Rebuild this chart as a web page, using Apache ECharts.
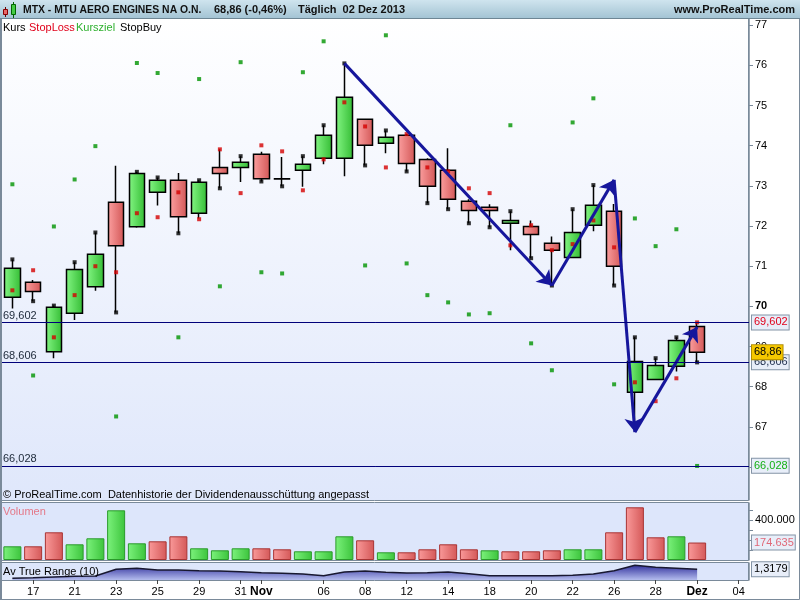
<!DOCTYPE html>
<html><head><meta charset="utf-8">
<script src="https://cdn.jsdelivr.net/npm/echarts@6/dist/echarts.min.js"></script>
<style>html,body{margin:0;padding:0;background:#fff}#c{width:800px;height:600px}</style>
</head><body><div id="c"></div>
<script>
// ---------- data ----------
const dates = ['2013-10-16','2013-10-17','2013-10-18','2013-10-21','2013-10-22','2013-10-23','2013-10-24','2013-10-25',
  '2013-10-28','2013-10-29','2013-10-30','2013-10-31','2013-11-01','2013-11-04','2013-11-05','2013-11-06','2013-11-07',
  '2013-11-08','2013-11-11','2013-11-12','2013-11-13','2013-11-14','2013-11-15','2013-11-18','2013-11-19','2013-11-20',
  '2013-11-21','2013-11-22','2013-11-25','2013-11-26','2013-11-27','2013-11-28','2013-11-29','2013-12-02','2013-12-03','2013-12-04'];
const tickLabels = ['','17','','21','','23','','25','','29','','31','Nov','','','06','','08','','12','','14','','18','','20','','22','','26','','28','','Dez','','04'];
const opens  = [70.23,70.60,68.87,69.83,70.49,72.59,71.98,72.84,73.14,72.32,73.46,73.46,73.79,73.18,73.39,73.69,73.69,74.66,74.06,74.26,73.66,73.39,72.62,72.47,72.07,71.99,71.57,71.22,72.02,72.37,67.86,68.18,68.51,69.50];
const closes = [70.95,70.37,69.98,70.92,71.30,71.51,73.31,73.14,72.23,73.09,73.31,73.59,73.18,73.17,73.54,74.26,75.21,74.01,74.21,73.56,72.99,72.67,72.39,72.39,72.14,71.79,71.40,71.84,72.52,71.00,68.63,68.53,69.15,68.86];
const lows   = [69.95,70.13,68.71,69.66,70.39,69.85,71.96,72.51,71.82,72.19,72.94,73.10,73.11,72.99,72.98,73.54,73.24,73.51,73.81,73.36,72.57,72.42,72.07,71.97,71.40,71.20,70.52,71.22,71.87,70.52,66.95,68.16,68.38,68.606];
const highs  = [71.17,70.66,70.02,71.10,71.84,73.50,73.35,73.21,73.32,73.14,73.91,73.74,73.85,73.72,73.74,74.51,76.05,74.68,74.38,74.29,73.69,73.94,72.67,72.54,72.37,72.14,71.74,72.42,73.02,72.55,69.23,68.71,69.23,69.602];
const stopLoss = [70.40,70.90,69.23,70.28,71.00,70.85,72.32,72.22,72.84,72.17,73.91,72.82,74.01,73.86,72.89,73.66,75.08,74.48,73.46,74.29,73.46,73.36,72.94,72.82,71.52,72.02,71.40,71.55,72.14,71.47,68.11,67.64,68.21,69.602];
const kursziel = [73.04,68.28,71.99,73.16,73.99,67.26,76.06,75.81,69.23,75.66,70.50,76.08,70.85,70.82,75.83,76.60,null,71.02,76.75,71.07,70.28,70.10,69.80,69.83,74.51,69.08,68.41,74.58,75.18,68.06,72.19,71.50,71.92,66.028];
const stopBuy  = [71.17,70.13,70.02,71.10,71.84,69.85,73.35,73.21,71.82,73.14,72.94,73.74,73.11,72.99,73.74,74.51,76.05,73.51,74.38,73.36,72.57,72.42,72.07,71.97,72.37,71.20,70.52,72.42,73.02,70.52,69.23,68.71,69.23,68.606];
const volumes = [137000,137000,277000,157000,217000,497000,167000,187000,237000,117000,97000,117000,117000,107000,87000,87000,237000,197000,77000,77000,107000,157000,107000,97000,87000,87000,97000,107000,107000,277000,527000,227000,237000,174635];
const volDir  = [1,-1,-1,1,1,1,1,-1,-1,1,1,1,-1,-1,1,1,1,-1,1,-1,-1,-1,-1,1,-1,-1,-1,1,1,-1,-1,-1,1,-1];
const atr = [0.850,0.881,0.918,0.954,0.970,1.318,1.370,1.282,1.282,1.245,1.230,1.193,1.141,1.110,1.074,0.985,1.178,1.230,1.162,1.126,1.141,1.178,1.089,0.985,0.985,0.985,0.985,1.006,1.074,1.245,1.526,1.422,1.370,1.3179];
const trendPoints = [[16,76.05],[26,70.52],[29,73.15],[30,66.87],[33,69.49]];
const priceTicks = [66,67,68,69,70,71,72,73,74,75,76,77];
const volTicks = [100000,200000,300000,400000,500000];
const volLabelTicks = [400000];

// ---------- helpers ----------
const FONT = 'Liberation Sans, Arial, sans-serif';
const de = (v, d) => v.toFixed(d).replace('.', ',');
const deVol = v => String(Math.round(v)).replace(/\B(?=(\d{3})+(?!\d))/g, '.');
const gH = (a, b) => new echarts.graphic.LinearGradient(0, 0, 1, 0, [{offset: 0, color: a}, {offset: 1, color: b}]);
const gV = (a, b) => new echarts.graphic.LinearGradient(0, 0, 0, 1, [{offset: 0, color: a}, {offset: 1, color: b}]);
const last = a => a[a.length - 1];
const NOLINE = {color: 'rgba(0,0,0,0)', width: 0};
const boxLabel = (text, color, bg, border) => ({
  show: true, position: 'end', distance: 3, formatter: text, color: color, fontSize: 11, fontFamily: FONT,
  backgroundColor: bg || '#e8eef9', borderColor: border || '#8494a6', borderWidth: 1, padding: [2, 1, 1, 2], opacity: 1
});
const hLine = (val, leftText, rightLabel) => ([
  {yAxis: val, label: {show: true, position: 'insideStartTop', distance: [1, 1], formatter: leftText, color: '#1c2838', fontSize: 11, fontFamily: FONT}},
  {yAxis: val, label: rightLabel}
]);

const candleData = opens.map((o, i) => [o, closes[i], lows[i], highs[i]]);
const trendSegs = [];
for (let i = 0; i < trendPoints.length - 1; i++) {
  trendSegs.push([{coord: trendPoints[i]}, {coord: trendPoints[i + 1]}]);
}
const volData = volumes.map((v, i) => ({
  value: v,
  itemStyle: volDir[i] > 0 ? {color: gH('#7cf27c', '#3cc43c'), borderColor: '#2a9a2a'} : {color: gH('#fa9a9a', '#d45858'), borderColor: '#a83434'}
}));

const chart = echarts.init(document.getElementById('c'), null, {renderer: 'canvas', width: 800, height: 600});
const axisGray = '#7a8a9a';
const xBase = (gi) => ({type: 'category', gridIndex: gi, data: dates, boundaryGap: true, show: false});

chart.setOption({
  animation: false,
  backgroundColor: '#ffffff',
  textStyle: {fontFamily: FONT},
  grid: [
    {left: 2, right: 51, top: 18, height: 482, outerBoundsMode: 'none'},
    {left: 2, right: 51, top: 503, height: 57, outerBoundsMode: 'none'},
    {left: 2, right: 51, top: 563, height: 17, outerBoundsMode: 'none'}
  ],
  xAxis: [
    xBase(0), xBase(1),
    {type: 'category', gridIndex: 2, data: dates, boundaryGap: true, position: 'bottom',
      axisLine: {show: false},
      axisTick: {show: true, alignWithLabel: true, length: 4, interval: (i) => tickLabels[i] !== '', lineStyle: {color: '#444'}},
      axisLabel: {interval: (i) => tickLabels[i] !== '', margin: 6, color: '#000', fontSize: 11, fontFamily: FONT,
        formatter: (v, i) => (tickLabels[i] === 'Nov' || tickLabels[i] === 'Dez') ? '{b|' + tickLabels[i] + '}' : tickLabels[i],
        rich: {b: {fontWeight: 'bold', fontSize: 12, fontFamily: FONT, color: '#000'}}},
      splitLine: {show: false}}
  ],
  yAxis: [
    {type: 'value', gridIndex: 0, position: 'right', min: 65.18, max: 77.18, scale: true,
      axisLine: {show: true, lineStyle: {color: axisGray, width: 1.5}},
      axisTick: {show: true, length: 4, customValues: priceTicks, lineStyle: {color: axisGray}},
      axisLabel: {show: true, margin: 6, customValues: priceTicks, color: '#000', fontSize: 11, fontFamily: FONT,
        formatter: v => v === 70 ? '{b|70}' : String(v), rich: {b: {fontWeight: 'bold', fontSize: 11, fontFamily: FONT, color: '#000'}}},
      splitLine: {show: false}},
    {type: 'value', gridIndex: 1, position: 'right', min: 0, max: 570000,
      axisLine: {show: true, lineStyle: {color: axisGray, width: 1.5}},
      axisTick: {show: true, length: 4, customValues: volTicks, lineStyle: {color: axisGray}},
      axisLabel: {show: true, margin: 6, customValues: volLabelTicks, color: '#000', fontSize: 11, fontFamily: FONT, formatter: v => deVol(v)},
      splitLine: {show: false}},
    {type: 'value', gridIndex: 2, position: 'right', min: 0.76, max: 1.646,
      axisLine: {show: true, lineStyle: {color: axisGray, width: 1.5}}, axisTick: {show: false}, axisLabel: {show: false}, splitLine: {show: false}}
  ],
  series: [
    {type: 'candlestick', name: 'Kurs', xAxisIndex: 0, yAxisIndex: 0, data: candleData, barWidth: 16,
      itemStyle: {color: gH('#84f684', '#34bc34'), color0: gH('#fca0a0', '#d25656'), borderColor: '#000', borderColor0: '#000', borderColorDoji: '#000', borderWidth: 1.5},
      markLine: {silent: true, animation: false, symbol: ['none', 'arrow'], symbolSize: 14,
        lineStyle: {color: '#16169c', width: 3, type: 'solid', opacity: 1}, label: {show: false}, data: trendSegs}},
    {type: 'scatter', name: 'StopLoss', xAxisIndex: 0, yAxisIndex: 0, data: stopLoss, symbol: 'rect', symbolSize: 4,
      itemStyle: {color: '#d40000'}, z: 3,
      markLine: {silent: true, animation: false, symbol: ['none', 'none'], lineStyle: {color: '#00007a', width: 1, type: 'solid'},
        data: hLine(last(stopLoss), de(last(stopLoss), 3), boxLabel(de(last(stopLoss), 3), '#e0001a'))}},
    {type: 'scatter', name: 'Kursziel', xAxisIndex: 0, yAxisIndex: 0, data: kursziel, symbol: 'rect', symbolSize: 4,
      itemStyle: {color: '#009400'}, z: 3,
      markLine: {silent: true, animation: false, symbol: ['none', 'none'], lineStyle: {color: '#00007a', width: 1, type: 'solid'},
        data: hLine(last(kursziel), de(last(kursziel), 3), boxLabel(de(last(kursziel), 3), '#16b016'))}},
    {type: 'scatter', name: 'StopBuy', xAxisIndex: 0, yAxisIndex: 0, data: stopBuy, symbol: 'rect', symbolSize: 4,
      itemStyle: {color: '#000'}, z: 3,
      markLine: {silent: true, animation: false, symbol: ['none', 'none'], lineStyle: {color: '#00007a', width: 1, type: 'solid'},
        data: hLine(last(stopBuy), de(last(stopBuy), 3), boxLabel(de(last(stopBuy), 3), '#1c2c4c')).concat([
          {yAxis: last(closes), lineStyle: NOLINE, label: boxLabel(de(last(closes), 2), '#000', '#f6c800', '#b08c00')}
        ])}},
    {type: 'bar', name: 'Volumen', xAxisIndex: 1, yAxisIndex: 1, data: volData, barWidth: 18,
      itemStyle: {borderWidth: 1},
      markLine: {silent: true, animation: false, symbol: ['none', 'none'], lineStyle: NOLINE,
        data: [{yAxis: last(volumes), label: boxLabel(deVol(last(volumes)), '#e06878')}]}},
    {type: 'line', name: 'ATR', xAxisIndex: 2, yAxisIndex: 2, data: atr, symbol: 'none', showSymbol: false,
      lineStyle: {color: '#181830', width: 1.5},
      areaStyle: {color: gV('#34349e', '#b4bcee'), opacity: 1},
      markLine: {silent: true, animation: false, symbol: ['none', 'none'], lineStyle: NOLINE,
        data: [{yAxis: last(atr), label: boxLabel(de(last(atr), 4), '#000')}]}}
  ],
  graphic: {elements: [
    // panels
    {type: 'rect', z: -10, shape: {x: 0.5, y: 18.5, width: 748, height: 482}, style: {fill: gV('#ffffff', '#dfe7fb'), stroke: axisGray, lineWidth: 1}},
    {type: 'rect', z: -10, shape: {x: 0.5, y: 502.5, width: 748, height: 58}, style: {fill: '#dde6fb', stroke: axisGray, lineWidth: 1}},
    {type: 'rect', z: -10, shape: {x: 0.5, y: 562.5, width: 748, height: 18}, style: {fill: '#dde6fb', stroke: axisGray, lineWidth: 1}},
    {type: 'rect', z: -11, shape: {x: 0.5, y: 0.5, width: 799, height: 599}, style: {fill: '#fff', stroke: axisGray, lineWidth: 1}},
    {type: 'line', z: 41, shape: {x1: 1, y1: 18, x2: 1, y2: 600}, style: {stroke: axisGray, lineWidth: 2}},
    // header
    {type: 'rect', z: 40, shape: {x: 0, y: 0, width: 800, height: 18}, style: {fill: gV('#cfe4ee', '#a4c4d4'), stroke: null}},
    {type: 'line', z: 41, shape: {x1: 0, y1: 18.5, x2: 800, y2: 18.5}, style: {stroke: '#6e8694', lineWidth: 1}},
    {type: 'line', z: 41, shape: {x1: 5.5, y1: 7, x2: 5.5, y2: 17}, style: {stroke: '#600', lineWidth: 1}},
    {type: 'rect', z: 42, shape: {x: 3.5, y: 9.5, width: 4, height: 5}, style: {fill: '#e86868', stroke: '#800', lineWidth: 1}},
    {type: 'line', z: 41, shape: {x1: 13.5, y1: 2, x2: 13.5, y2: 18}, style: {stroke: '#060', lineWidth: 1}},
    {type: 'rect', z: 42, shape: {x: 11.5, y: 4.5, width: 4, height: 10}, style: {fill: '#44cc44', stroke: '#060', lineWidth: 1}},
    {type: 'text', z: 45, x: 23, y: 10, style: {text: 'MTX - MTU AERO ENGINES NA O.N.', font: 'bold 10.4px ' + FONT, fill: '#111', verticalAlign: 'middle'}},
    {type: 'text', z: 45, x: 214, y: 10, style: {text: '68,86 (-0,46%)', font: 'bold 11px ' + FONT, fill: '#111', verticalAlign: 'middle'}},
    {type: 'text', z: 45, x: 298, y: 10, style: {text: 'Täglich  02 Dez 2013', font: 'bold 11px ' + FONT, fill: '#111', verticalAlign: 'middle'}},
    {type: 'text', z: 45, x: 795, y: 10, style: {text: 'www.ProRealTime.com', font: 'bold 11px ' + FONT, fill: '#111', align: 'right', verticalAlign: 'middle'}},
    // legend
    {type: 'text', z: 45, x: 3, y: 28, style: {text: 'Kurs', font: '11px ' + FONT, fill: '#000', verticalAlign: 'middle'}},
    {type: 'text', z: 45, x: 29, y: 28, style: {text: 'StopLoss', font: '11px ' + FONT, fill: '#e0001a', verticalAlign: 'middle'}},
    {type: 'text', z: 45, x: 76, y: 28, style: {text: 'Kursziel', font: '11px ' + FONT, fill: '#2eb02e', verticalAlign: 'middle'}},
    {type: 'text', z: 45, x: 120, y: 28, style: {text: 'StopBuy', font: '11px ' + FONT, fill: '#000', verticalAlign: 'middle'}},
    // panel captions
    {type: 'text', z: 45, x: 3, y: 494.5, style: {text: '© ProRealTime.com  Datenhistorie der Dividendenausschüttung angepasst', font: '11px ' + FONT, fill: '#000', verticalAlign: 'middle'}},
    {type: 'text', z: 45, x: 3, y: 512, style: {text: 'Volumen', font: '11px ' + FONT, fill: '#e47888', verticalAlign: 'middle'}},
    {type: 'text', z: 45, x: 3, y: 571.5, style: {text: 'Av True Range (10)', font: '11px ' + FONT, fill: '#000', verticalAlign: 'middle'}}
  ]}
});
</script>
</body></html>
